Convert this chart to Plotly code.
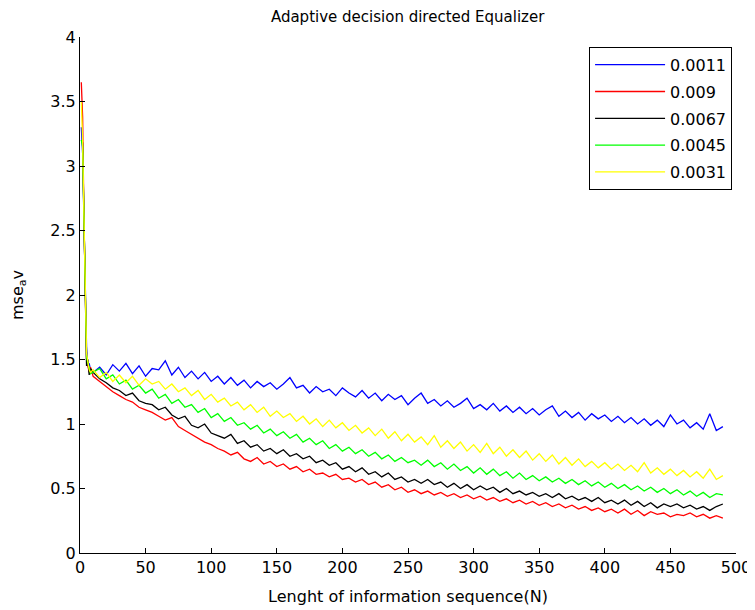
import plotly.graph_objects as go

# sample index N: dense at the start (transient), then every 5 samples
n_idx = [1, 2, 3, 4, 5, 6, 7, 8] + list(range(10, 491, 5))

labels = ["0.0011", "0.009", "0.0067", "0.0045", "0.0031"]
colors = ["#0000ff", "#ff0000", "#000000", "#00ff00", "#ffff00"]

mse_0011 = [3.30, 3.10, 2.58, 2.00, 1.60, 1.45, 1.47, 1.42,
            1.40, 1.44, 1.38, 1.46, 1.41, 1.47, 1.39, 1.45, 1.37, 1.43,
            1.42, 1.49, 1.38, 1.44, 1.36, 1.41, 1.35, 1.40, 1.33, 1.37,
            1.31, 1.36, 1.30, 1.34, 1.28, 1.33, 1.29, 1.32, 1.27, 1.31,
            1.36, 1.28, 1.30, 1.24, 1.29, 1.25, 1.27, 1.22, 1.28, 1.24,
            1.21, 1.26, 1.20, 1.24, 1.18, 1.23, 1.19, 1.22, 1.15, 1.20,
            1.24, 1.16, 1.19, 1.14, 1.18, 1.13, 1.16, 1.20, 1.12, 1.15,
            1.11, 1.16, 1.10, 1.14, 1.09, 1.13, 1.08, 1.12, 1.07, 1.11,
            1.14, 1.06, 1.10, 1.05, 1.09, 1.03, 1.08, 1.04, 1.07, 1.02,
            1.06, 1.01, 1.05, 1.00, 1.04, 0.99, 1.03, 0.98, 1.07, 1.00,
            1.03, 0.97, 1.01, 0.96, 1.08, 0.95, 0.98]

mse_009 = [3.65, 3.38, 2.60, 2.15, 1.50, 1.45, 1.40, 1.44,
           1.37, 1.33, 1.29, 1.25, 1.22, 1.19, 1.17, 1.13, 1.11, 1.09,
           1.06, 1.03, 1.05, 0.98, 0.95, 0.92, 0.89, 0.86, 0.84, 0.81,
           0.79, 0.76, 0.78, 0.73, 0.71, 0.74, 0.69, 0.71, 0.67, 0.69,
           0.65, 0.67, 0.63, 0.65, 0.61, 0.62, 0.59, 0.61, 0.57, 0.58,
           0.55, 0.57, 0.53, 0.55, 0.51, 0.53, 0.49, 0.51, 0.47, 0.49,
           0.46, 0.48, 0.45, 0.47, 0.44, 0.46, 0.43, 0.45, 0.42, 0.44,
           0.41, 0.43, 0.40, 0.42, 0.39, 0.41, 0.38, 0.40, 0.37, 0.39,
           0.36, 0.38, 0.35, 0.37, 0.34, 0.36, 0.33, 0.35, 0.32, 0.34,
           0.31, 0.34, 0.30, 0.33, 0.29, 0.32, 0.30, 0.31, 0.28, 0.30,
           0.29, 0.31, 0.28, 0.30, 0.27, 0.29, 0.27]

mse_0067 = [3.20, 3.18, 2.62, 2.05, 1.45, 1.50, 1.38, 1.43,
            1.40, 1.35, 1.32, 1.28, 1.26, 1.22, 1.24, 1.18, 1.16, 1.15,
            1.11, 1.13, 1.07, 1.04, 1.06, 0.99, 0.97, 1.00, 0.93, 0.91,
            0.89, 0.92, 0.85, 0.87, 0.82, 0.84, 0.79, 0.81, 0.77, 0.80,
            0.75, 0.77, 0.73, 0.75, 0.70, 0.72, 0.68, 0.70, 0.65, 0.67,
            0.63, 0.66, 0.61, 0.63, 0.59, 0.62, 0.57, 0.59, 0.55, 0.57,
            0.54, 0.57, 0.53, 0.55, 0.51, 0.54, 0.50, 0.53, 0.49, 0.52,
            0.49, 0.51, 0.47, 0.50, 0.46, 0.48, 0.45, 0.47, 0.44, 0.46,
            0.43, 0.46, 0.42, 0.44, 0.41, 0.43, 0.40, 0.43, 0.39, 0.41,
            0.38, 0.41, 0.37, 0.40, 0.36, 0.39, 0.35, 0.38, 0.36, 0.38,
            0.35, 0.37, 0.34, 0.36, 0.33, 0.36, 0.38]

mse_0045 = [3.20, 3.15, 2.60, 2.10, 1.52, 1.47, 1.44, 1.39,
            1.40, 1.43, 1.35, 1.38, 1.31, 1.34, 1.27, 1.30, 1.24, 1.27,
            1.20, 1.23, 1.16, 1.19, 1.13, 1.15, 1.09, 1.12, 1.05, 1.08,
            1.02, 1.05, 0.99, 1.01, 0.96, 0.99, 0.93, 0.96, 0.91, 0.94,
            0.89, 0.92, 0.86, 0.89, 0.84, 0.87, 0.81, 0.84, 0.79, 0.82,
            0.77, 0.80, 0.75, 0.78, 0.73, 0.76, 0.71, 0.74, 0.70, 0.72,
            0.68, 0.72, 0.67, 0.70, 0.65, 0.69, 0.64, 0.67, 0.62, 0.66,
            0.61, 0.65, 0.60, 0.63, 0.58, 0.62, 0.57, 0.60, 0.56, 0.59,
            0.55, 0.58, 0.54, 0.57, 0.53, 0.56, 0.52, 0.55, 0.51, 0.54,
            0.50, 0.53, 0.49, 0.52, 0.48, 0.51, 0.47, 0.50, 0.46, 0.49,
            0.45, 0.48, 0.44, 0.47, 0.43, 0.46, 0.45]

mse_0031 = [3.50, 3.20, 2.62, 2.10, 1.55, 1.48, 1.42, 1.40,
            1.42, 1.36, 1.40, 1.33, 1.38, 1.32, 1.37, 1.30, 1.35, 1.31,
            1.33, 1.27, 1.31, 1.25, 1.28, 1.22, 1.26, 1.19, 1.23, 1.17,
            1.20, 1.14, 1.17, 1.11, 1.15, 1.09, 1.13, 1.06, 1.10, 1.05,
            1.08, 1.02, 1.06, 1.00, 1.04, 0.98, 1.03, 0.97, 1.01, 0.95,
            0.99, 0.93, 0.97, 0.91, 0.96, 0.89, 0.94, 0.87, 0.92, 0.86,
            0.90, 0.84, 0.91, 0.82, 0.87, 0.81, 0.86, 0.79, 0.84, 0.78,
            0.85, 0.77, 0.82, 0.75, 0.80, 0.74, 0.79, 0.72, 0.77, 0.71,
            0.76, 0.69, 0.74, 0.68, 0.73, 0.67, 0.71, 0.66, 0.70, 0.65,
            0.69, 0.64, 0.68, 0.63, 0.70, 0.62, 0.66, 0.61, 0.65, 0.60,
            0.64, 0.59, 0.63, 0.58, 0.65, 0.57, 0.60]

series = [mse_0011, mse_009, mse_0067, mse_0045, mse_0031]

fig = go.Figure()
for i, (lab, col, ys) in enumerate(zip(labels, colors, series)):
    fig.add_trace(go.Scatter(x=n_idx, y=ys, name=lab, mode="lines",
                             line=dict(color=col, width=1.3),
                             legendgroup=str(i)))

axis_common = dict(showline=True, linecolor="black", linewidth=1,
                   ticks="inside", ticklen=5, tickcolor="black",
                   showgrid=False, zeroline=False, mirror=False,
                   automargin=False,
                   tickfont=dict(size=16, color="black"))

# the page body adds an 8px margin, so the figure is 8px smaller each way
fig.update_layout(
    width=747, height=602,
    paper_bgcolor="white", plot_bgcolor="white",
    font=dict(family="DejaVu Sans, Arial", size=16, color="black"),
    margin=dict(l=72, r=19, t=29, b=57),
    title=dict(text="Adaptive decision directed Equalizer", x=0.535, y=0.985,
               xanchor="center", yanchor="middle", font=dict(size=15)),
    xaxis=dict(range=[0, 500], dtick=50, tick0=0,
               title=dict(text="Lenght of information sequence(N)", standoff=14,
                          font=dict(size=16)),
               **axis_common),
    yaxis=dict(range=[0, 4], dtick=0.5, tick0=0,
               title=dict(text="mse<sub>a</sub>v", standoff=28, font=dict(size=16)),
               **axis_common),
    showlegend=True,
    legend=dict(x=0.994, y=0.981, xanchor="right", yanchor="top",
                bordercolor="black", borderwidth=1, bgcolor="white",
                itemwidth=70, tracegroupgap=3, font=dict(size=16)),
)

fig.write_html("out.html")
